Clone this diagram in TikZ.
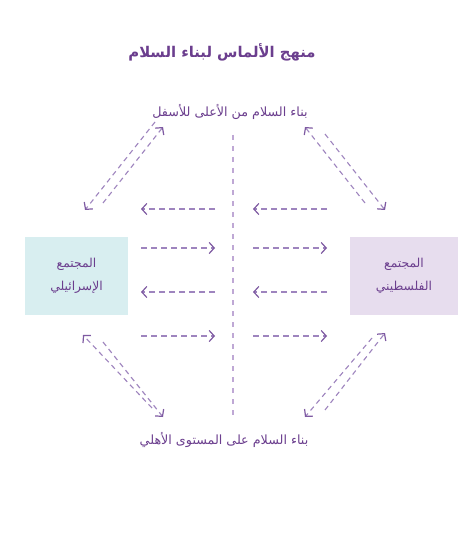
\documentclass[tikz,border=0pt]{standalone}
\usepackage{fontspec}
\usepackage{xcolor}
\TeXXeTstate=1
\newfontfamily\arabicfont[Script=Arabic]{DejaVu Sans}
\usetikzlibrary{arrows.meta}

\definecolor{titlepurple}{HTML}{6B3E8E}
\definecolor{linepurple}{HTML}{9E84BE}
\definecolor{headpurple}{HTML}{7E5AA2}
\definecolor{midpurple}{HTML}{BFA8D5}
\definecolor{israelbox}{HTML}{D8EEF0}
\definecolor{palestbox}{HTML}{E7DDEE}

\tikzset{
  flow/.style={draw=linepurple, line width=1.1pt, dash pattern=on 6pt off 4pt,
    -{Straight Barb[length=5pt,width=11pt,line width=1.2pt,color=headpurple]}},
  slant/.style={flow, dash pattern=on 5pt off 4pt},
  community/.style={minimum width=#1, minimum height=78pt, inner sep=0pt,
    align=center, text=titlepurple, font=\arabicfont\fontsize{12.3}{23}\selectfont},
  label/.style={text=titlepurple, font=\arabicfont\fontsize{12.7}{14}\selectfont}
}

\begin{document}
\begin{tikzpicture}[x=1pt,y=-1pt]
    \useasboundingbox[fill=white] (0,0) rectangle (458,534);

    % title and the two levels
    \node[text=titlepurple,font=\arabicfont\bfseries\fontsize{14.8}{16}\selectfont] (title) at (222,52) {\beginR منهج الألماس لبناء السلام\endR};
    \node[label] (top) at (230,112) {\beginR بناء السلام من الأعلى للأسفل\endR};
    \node[label] (bottom) at (224,440) {\beginR بناء السلام على المستوى الأهلي\endR};

    % the two communities
    \node[community=103pt,fill=israelbox] (israel) at (76.5,276) {\beginR المجتمع\endR\\ \beginR الإسرائيلي\endR};
    \node[community=108pt,fill=palestbox] (palest) at (404,276) {\beginR المجتمع\endR\\ \beginR الفلسطيني\endR};

    % middle line
    \coordinate (midtop) at (233,135);
    \coordinate (midbot) at (233,416);
    \draw[midpurple, line width=1.8pt, dash pattern=on 5pt off 6pt] (midtop) -- (midbot);

    % horizontal arrows
    \foreach \y/\dir [count=\i] in {209/-1, 248/1, 292/-1, 336/1} {
        \foreach \x [count=\j] in {178, 290} {
            \coordinate (h\i\j a) at (\x-37*\dir,\y);
            \coordinate (h\i\j b) at (\x+37*\dir,\y);
            \draw[flow] (h\i\j a) -- (h\i\j b);
        }
    }

    % diagonal arrows
    \coordinate (tl1) at (155,122); \coordinate (tl2) at (85,210);
    \coordinate (tl3) at (103,203); \coordinate (tl4) at (163,127);
    \coordinate (tr1) at (365,203); \coordinate (tr2) at (305,127);
    \coordinate (tr3) at (325,134); \coordinate (tr4) at (385,210);
    \coordinate (bl1) at (152,408); \coordinate (bl2) at (83,335);
    \coordinate (bl3) at (103,342); \coordinate (bl4) at (163,417);
    \coordinate (br1) at (325,410); \coordinate (br2) at (385,333);
    \coordinate (br3) at (372,338); \coordinate (br4) at (305,417);
    \foreach \c in {tl, tr, bl, br} {
        \draw[slant] (\c1) -- (\c2);
        \draw[slant] (\c3) -- (\c4);
    }
\end{tikzpicture}
\end{document}
